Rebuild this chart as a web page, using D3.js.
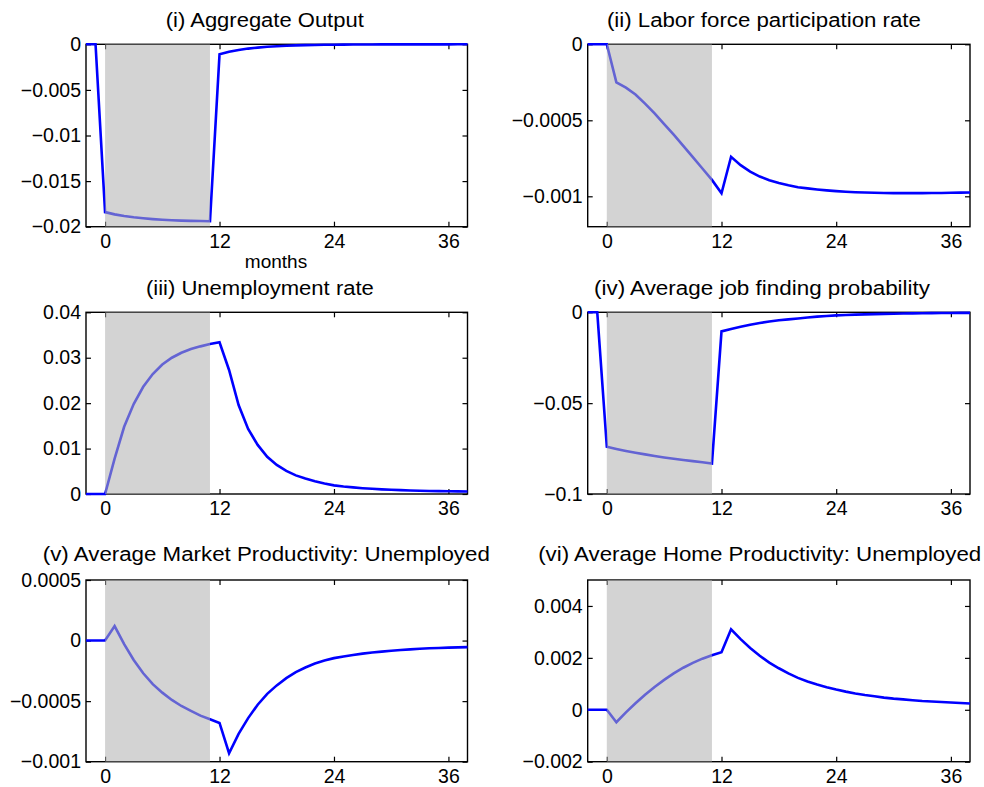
<!DOCTYPE html>
<html>
<head>
<meta charset="utf-8">
<script src="https://cdn.jsdelivr.net/npm/d3@7"></script>
<style>
  body { margin: 0; background: #fff; }
  text { font-family: "Liberation Sans", Arial, sans-serif; fill: #000; }
  .tick text { font-size: 19.5px; }
</style>
</head>
<body>
<div id="chart"></div>
<script>
// months after the shock, -2 .. 38
const months = d3.range(-2, 39);
const shadeFrom = 0, shadeTo = 11;
const xTicks = [0, 12, 24, 36];

const output = [0, 0, -0.0184,
  -0.01865, -0.01883, -0.01897, -0.01908, -0.01917, -0.01924, -0.01929, -0.01933, -0.01936, -0.01938, -0.0194,
  -0.0011, -0.00082, -0.00062, -0.00047, -0.00036, -0.00027, -0.00021, -0.00016, -0.00012, -0.00009, -0.00007, -0.000055, -0.000042,
  -0.000033, -0.000026, -0.00002, -0.000016, -0.000012, -0.00001, -0.000008, -0.000006, -0.000005, -0.000004, -0.000003, -0.000003, -0.000002, -0.000002];

const lfp = [0, 0, 0,
  -0.00025, -0.000285, -0.00033, -0.00039, -0.000455, -0.000525, -0.000595, -0.000668, -0.000742, -0.000817, -0.000892,
  -0.00098, -0.00074, -0.000795, -0.000838, -0.00087, -0.000894, -0.000912, -0.000927, -0.00094, -0.000948, -0.000955, -0.000961, -0.000966,
  -0.00097, -0.000973, -0.000975, -0.000977, -0.000978, -0.000979, -0.000979, -0.000979, -0.000979, -0.000978, -0.000978, -0.000977, -0.000976, -0.000975];

const urate = [0, 0, 0,
  0.0078, 0.0148, 0.0198, 0.0236, 0.0264, 0.0285, 0.0300, 0.0311, 0.0319, 0.0325, 0.0330,
  0.0334, 0.0273, 0.0196, 0.0143, 0.0108, 0.0082, 0.0064, 0.0051, 0.0041, 0.0034, 0.0028, 0.0023, 0.0019,
  0.00165, 0.00145, 0.00128, 0.00114, 0.00102, 0.00093, 0.00085, 0.00078, 0.00072, 0.00067, 0.00063, 0.0006, 0.00057, 0.00055];

const jobFind = [0, 0, -0.0740,
  -0.0752, -0.0763, -0.0773, -0.0782, -0.0791, -0.0799, -0.0806, -0.0813, -0.0819, -0.0825, -0.0832,
  -0.0105, -0.0092, -0.0080, -0.0069, -0.0059, -0.0051, -0.0044, -0.0039, -0.0034, -0.0029, -0.0024, -0.0020, -0.0017,
  -0.00148, -0.00129, -0.00113, -0.00099, -0.00087, -0.00077, -0.00068, -0.0006, -0.00053, -0.00047, -0.00042, -0.00038, -0.00034, -0.00031];

const mktProd = [0, 0, 0,
  0.00012, -0.00003, -0.00016, -0.00027, -0.00036, -0.00043, -0.00049, -0.00054, -0.00058, -0.00062, -0.00065,
  -0.00068, -0.00093, -0.00077, -0.00064, -0.00053, -0.00044, -0.00037, -0.00031, -0.00026, -0.000222, -0.00019, -0.000165, -0.000145,
  -0.000131, -0.000119, -0.000108, -0.000099, -0.000091, -0.000084, -0.000078, -0.000073, -0.000068, -0.000064, -0.000061, -0.000058, -0.000056, -0.000054];

const homeProd = [0, 0, 0,
  -0.00048, -0.0001, 0.00025, 0.00058, 0.00088, 0.00115, 0.0014, 0.00162, 0.00181, 0.00197, 0.0021,
  0.00222, 0.0031, 0.00272, 0.00238, 0.00208, 0.00182, 0.0016, 0.0014, 0.00123, 0.00109, 0.00097, 0.00087, 0.00078,
  0.0007, 0.00063, 0.00057, 0.00052, 0.00047, 0.00043, 0.0004, 0.00037, 0.00034, 0.00032, 0.0003, 0.00028, 0.00026, 0.00024];

const titles = ["(i) Aggregate Output", "(ii) Labor force participation rate", "(iii) Unemployment rate",
  "(iv) Average job finding probability", "(v) Average Market Productivity: Unemployed",
  "(vi) Average Home Productivity: Unemployed"];
const series = [output, lfp, urate, jobFind, mktProd, homeProd];
const yDomains = [[-0.02, 0], [-0.0012, 0], [0, 0.04], [-0.1, 0], [-0.001, 0.0005], [-0.002, 0.005]];
const yTicks = [
  [0, -0.005, -0.01, -0.015, -0.02],
  [0, -0.0005, -0.001],
  [0, 0.01, 0.02, 0.03, 0.04],
  [0, -0.05, -0.1],
  [0.0005, 0, -0.0005, -0.001],
  [0.004, 0.002, 0, -0.002]
];

const width = 984, height = 787;
const cols = [[86, 467.5], [587.7, 970]];
const rows = [[44.3, 226.7], [312.3, 494], [580, 761.7]];
const titlePos = [[264.8, 27, 198], [763.9, 27, 314], [259.9, 295, 228], [762, 295, 336], [266.3, 561, 447], [759.7, 561, 443]];

const svg = d3.select("#chart").append("svg")
  .attr("width", width).attr("height", height)
  .attr("viewBox", [0, 0, width, height]);

const fmt = v => v === 0 ? "0" : (v < 0 ? "\u2212" : "") + String(Math.abs(v));

series.forEach((vals, i) => {
  const [x0, x1] = cols[i % 2];
  const [y0, y1] = rows[Math.floor(i / 2)];

  const x = d3.scaleLinear().domain([-2, 38]).range([x0, x1]);
  const y = d3.scaleLinear().domain(yDomains[i]).range([y1, y0]);

  const g = svg.append("g");

  // box and ticks (inward, on all four sides)
  g.append("g").attr("transform", `translate(0,${y1})`)
    .call(d3.axisBottom(x).tickValues(xTicks).tickSize(-5).tickPadding(7).tickFormat(d3.format("d")));
  g.append("g").attr("transform", `translate(0,${y0})`)
    .call(d3.axisTop(x).tickValues(xTicks).tickSize(-5).tickFormat(""));
  g.append("g").attr("transform", `translate(${x0},0)`)
    .call(d3.axisLeft(y).tickValues(yTicks[i]).tickSize(-5).tickPadding(5).tickFormat(fmt));
  g.append("g").attr("transform", `translate(${x1},0)`)
    .call(d3.axisRight(y).tickValues(yTicks[i]).tickSize(-5).tickFormat(""));
  g.selectAll(".domain").remove();
  g.selectAll(".tick line").attr("stroke", "#000").attr("stroke-width", 1.2);
  g.selectAll(".tick text").attr("fill", "#000");

  g.append("rect")
    .attr("x", x0).attr("y", y0)
    .attr("width", x1 - x0).attr("height", y1 - y0)
    .attr("fill", "none").attr("stroke", "#000").attr("stroke-width", 1.4);

  g.append("path")
    .datum(months.map((m, k) => [m, vals[k]]))
    .attr("fill", "none")
    .attr("stroke", "#0000ff")
    .attr("stroke-width", 2.6)
    .attr("stroke-linejoin", "miter")
    .attr("d", d3.line().x(d => x(d[0])).y(d => y(d[1])));

  // shaded window, drawn over the line
  g.append("rect")
    .attr("x", x(shadeFrom)).attr("y", y0)
    .attr("width", x(shadeTo) - x(shadeFrom)).attr("height", y1 - y0)
    .attr("fill", "rgb(177,177,177)").attr("fill-opacity", 0.565);

  const [tx, ty, tw] = titlePos[i];
  svg.append("text")
    .attr("x", tx).attr("y", ty)
    .attr("text-anchor", "middle")
    .attr("font-size", 20)
    .attr("textLength", tw)
    .attr("lengthAdjust", "spacingAndGlyphs")
    .text(titles[i]);
});

svg.append("text")
  .attr("x", 276).attr("y", 268)
  .attr("text-anchor", "middle")
  .attr("font-size", 19)
  .text("months");
</script>
</body>
</html>
